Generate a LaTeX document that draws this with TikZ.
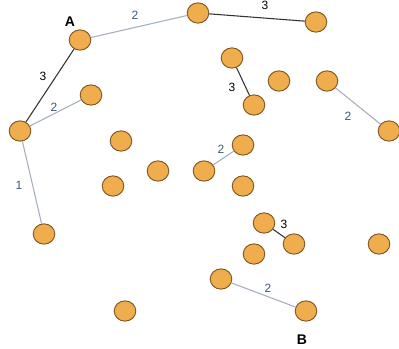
\documentclass[tikz,border=0pt]{standalone}
\usepackage{fontspec}
\setmainfont{Liberation Sans}
\usepackage{tikz}
\definecolor{dotfill}{HTML}{F0AD4E}
\definecolor{dotline}{HTML}{7F5520}
\definecolor{thinedge}{HTML}{A3AFBF}
\definecolor{numblue}{HTML}{3D5878}
\tikzstyle{dot}=[ellipse,draw=dotline,fill=dotfill,line width=0.7pt,minimum width=16.2pt,minimum height=15.2pt,inner sep=0pt]
\tikzstyle{heavy}=[draw=black!80,line width=0.8pt]
\tikzstyle{light}=[draw=thinedge,line width=0.8pt]
\tikzstyle{wnum}=[font=\fontsize{9}{9}\selectfont,text=black,inner sep=0pt]
\tikzstyle{lnum}=[font=\fontsize{9}{9}\selectfont,text=numblue,inner sep=0pt]
\tikzstyle{tag}=[font=\fontsize{10.5}{10.5}\selectfont\bfseries,inner sep=0pt]
\usetikzlibrary{shapes.geometric}

\begin{document}
\begin{tikzpicture}[x=0.75pt,y=-0.75pt]
  \useasboundingbox (0,0) rectangle (399,349);
  % points
  \node[dot] (A) at (80,40) {};
  \node[dot] (top) at (198,13) {};
  \node[dot] (topright) at (316,22) {};
  \node[dot] (left) at (20,131) {};
  \node[dot] (upper) at (91,95) {};
  \node[dot] (lowleft) at (44,234) {};
  \node[dot] (mid1) at (121,141) {};
  \node[dot] (mid2) at (158,171) {};
  \node[dot] (mid3) at (113,186) {};
  \node[dot] (bottom) at (125,311) {};
  \node[dot] (pa) at (232,58) {};
  \node[dot] (pb) at (254,105) {};
  \node[dot] (pc) at (279,81) {};
  \node[dot] (pd) at (327,81) {};
  \node[dot] (pe) at (389,131) {};
  \node[dot] (qa) at (243,145) {};
  \node[dot] (qb) at (204,171) {};
  \node[dot] (qc) at (243,186) {};
  \node[dot] (ra) at (264,223) {};
  \node[dot] (rb) at (294,244) {};
  \node[dot] (rc) at (254,254) {};
  \node[dot] (far) at (379,244) {};
  \node[dot] (sa) at (221,279) {};
  \node[dot] (B) at (306,311) {};
  % links
  \draw[light] (A) -- (top);
  \draw[heavy] (top) -- (topright);
  \draw[heavy] (A) -- (left);
  \draw[light] (left) -- (upper);
  \draw[light] (left) -- (lowleft);
  \draw[heavy] (pa) -- (pb);
  \draw[light] (pd) -- (pe);
  \draw[light] (qb) -- (qa);
  \draw[heavy] (ra) -- (rb);
  \draw[light] (sa) -- (B);
  % weights
  \node[lnum] (w1) at (135,15) {2};
  \node[wnum] (w2) at (265,5) {3};
  \node[wnum] (w3) at (43,76) {3};
  \node[lnum] (w4) at (54,107) {2};
  \node[lnum] (w5) at (19,185) {1};
  \node[wnum] (w6) at (232,87) {3};
  \node[lnum] (w7) at (348,116) {2};
  \node[lnum] (w8) at (221,149) {2};
  \node[wnum] (w9) at (284,224) {3};
  \node[lnum] (w10) at (268,288) {2};
  \node[tag] (tA) at (70,22) {A};
  \node[tag] (tB) at (302,340) {B};
\end{tikzpicture}
\end{document}
